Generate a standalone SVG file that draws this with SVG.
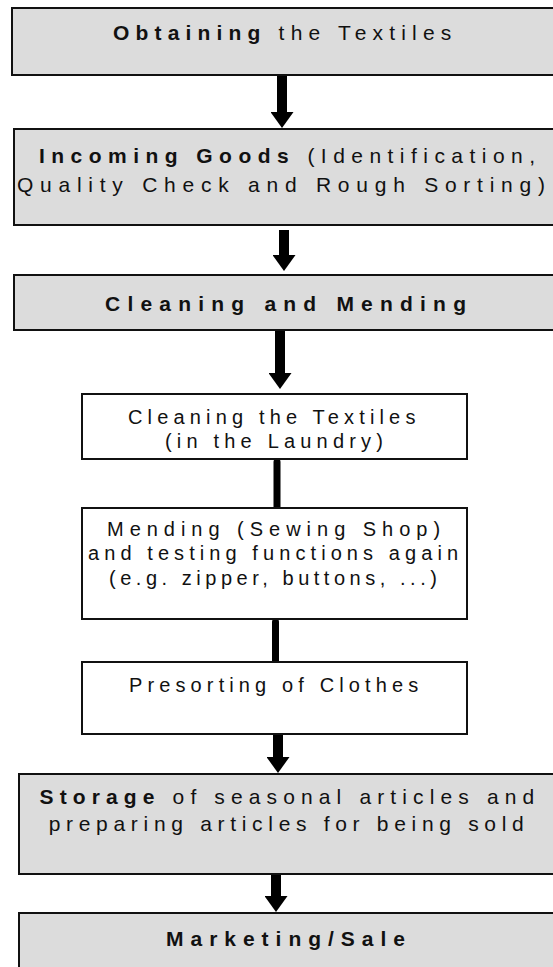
<svg xmlns="http://www.w3.org/2000/svg" width="553" height="967" viewBox="0 0 553 967">
<style>
.gray{fill:#dcdcdc;stroke:#111;stroke-width:2}
.white{fill:#ffffff;stroke:#111;stroke-width:2}
.t{font-family:"Liberation Sans",Arial,sans-serif;fill:#111}
.g{font-size:21px}
.w{font-size:20px}
.b{font-weight:bold}
.arrow{stroke:#000;stroke-width:10;fill:none}
.link{stroke:#000;stroke-width:7;stroke-linecap:round;fill:none}
</style>
<defs>
<marker id="head" viewBox="0 0 16 23" refX="1" refY="11.5" markerWidth="16" markerHeight="23" markerUnits="userSpaceOnUse" orient="auto">
<path d="M0,0 L16,11.5 L0,23 Z" fill="#000"/>
</marker>
</defs>
<rect width="553" height="967" fill="#ffffff"/>
<g id="connectors">
<line class="arrow" x1="282" y1="76" x2="282" y2="113" marker-end="url(#head)"/>
<line class="arrow" x1="284" y1="230" x2="284" y2="256" marker-end="url(#head)"/>
<line class="arrow" x1="280" y1="331" x2="280" y2="374" marker-end="url(#head)"/>
<line class="link" x1="277" y1="462" x2="277" y2="507"/>
<line class="link" x1="275.5" y1="622" x2="275.5" y2="661"/>
<line class="arrow" x1="278" y1="734" x2="278" y2="758" marker-end="url(#head)"/>
<line class="arrow" x1="276" y1="875" x2="276" y2="897" marker-end="url(#head)"/>
</g>
<g id="obtaining">
<rect class="gray" x="12" y="8" width="560" height="67"/>
<text class="t g" x="113" y="40" style="letter-spacing:6.18px"><tspan class="b">Obtaining</tspan> the Textiles</text>
</g>
<g id="incoming">
<rect class="gray" x="14" y="129" width="560" height="96"/>
<text class="t g" x="39" y="163" style="letter-spacing:6.46px"><tspan class="b">Incoming Goods</tspan> (Identification,</text>
<text class="t g" x="17" y="192" style="letter-spacing:6.75px">Quality Check and Rough Sorting)</text>
</g>
<g id="cleaning-mending">
<rect class="gray" x="14" y="275" width="560" height="55"/>
<text class="t g b" x="105" y="311" style="letter-spacing:7.21px">Cleaning and Mending</text>
</g>
<g id="cleaning">
<rect class="white" x="82" y="394" width="385" height="65"/>
<text class="t w" x="128" y="424" style="letter-spacing:5.16px">Cleaning the Textiles</text>
<text class="t w" x="165" y="448" style="letter-spacing:5.19px">(in the Laundry)</text>
</g>
<g id="mending">
<rect class="white" x="82" y="508" width="385" height="111"/>
<text class="t w" x="107" y="536" style="letter-spacing:5.98px">Mending (Sewing Shop)</text>
<text class="t w" x="88" y="560" style="letter-spacing:5.08px">and testing functions again</text>
<text class="t w" x="109" y="585" style="letter-spacing:4.53px">(e.g. zipper, buttons, ...)</text>
</g>
<g id="presorting">
<rect class="white" x="82" y="662" width="385" height="72"/>
<text class="t w" x="129" y="692" style="letter-spacing:5.12px">Presorting of Clothes</text>
</g>
<g id="storage">
<rect class="gray" x="19" y="774" width="560" height="100"/>
<text class="t g" x="39.5" y="804" style="letter-spacing:6.13px"><tspan class="b">Storage</tspan> of seasonal articles and</text>
<text class="t g" x="48.7" y="831" style="letter-spacing:5.69px">preparing articles for being sold</text>
</g>
<g id="marketing">
<rect class="gray" x="19" y="913" width="560" height="80"/>
<text class="t g b" x="166" y="946" style="letter-spacing:6.98px">Marketing/Sale</text>
</g>
</svg>
